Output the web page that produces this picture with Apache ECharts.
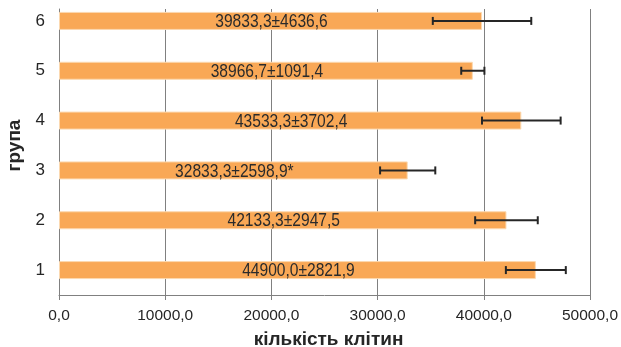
<!DOCTYPE html>
<html><head><meta charset="utf-8">
<script src="https://cdn.jsdelivr.net/npm/echarts@6/dist/echarts.min.js"></script>
<style>html,body{margin:0;padding:0;background:#fff}#c{width:621px;height:347px}</style>
</head><body><div id="c"></div>
<script>
const categories = ['1','2','3','4','5','6'];
const means = [44900.0, 42133.3, 32833.3, 43533.3, 38966.7, 39833.3];
const sds = [2821.9, 2947.5, 2598.9, 3702.4, 1091.4, 4636.6];
const marks = ['', '', '*', '', '', ''];
const xTicks = [0, 10000, 20000, 30000, 40000, 50000];

const FONT = "'Liberation Sans',Arial,sans-serif";
const fmt = v => v.toFixed(1).replace('.', ',');

const chart = echarts.init(document.getElementById('c'));
chart.setOption({
  animation: false,
  grid: [
    {left: 59, right: 31, top: -4, bottom: 52, outerBoundsMode: 'none', containLabel: false},
    {left: 59, right: 31, top: 9, bottom: 52, outerBoundsMode: 'none', containLabel: false}
  ],
  xAxis: [
    {gridIndex: 0, type: 'value', min: 0, max: 50000, interval: 10000, show: false},
    {gridIndex: 1, type: 'value', min: xTicks[0], max: xTicks[xTicks.length-1], interval: 10000,
      axisLine: {show: true, lineStyle: {color: '#808080', width: 1}},
      axisTick: {show: true, length: 5, lineStyle: {color: '#808080'}},
      splitLine: {show: true, lineStyle: {color: '#808080', width: 1}},
      axisLabel: {formatter: v => fmt(v), fontFamily: FONT, fontSize: 15.5, color: '#262626', margin: 13},
      name: 'кількість клітин', nameLocation: 'middle', nameGap: 35,
      nameTextStyle: {fontFamily: FONT, fontWeight: 'bold', fontSize: 19, color: '#262626', padding: [0,0,0,8]}
    }
  ],
  yAxis: [
    {gridIndex: 0, type: 'category', data: categories,
      axisLine: {show: false}, axisTick: {show: false}, splitLine: {show: false},
      axisLabel: {fontFamily: FONT, fontSize: 17, color: '#262626', margin: 14},
      name: 'група', nameLocation: 'middle', nameGap: 30, nameRotate: 90,
      nameTextStyle: {fontFamily: FONT, fontWeight: 'bold', fontSize: 19, color: '#262626', padding: [0,0,0,0]}
    },
    {gridIndex: 1, type: 'category', data: categories,
      axisLine: {show: true, lineStyle: {color: '#808080', width: 1}},
      axisTick: {show: false}, axisLabel: {show: false}, splitLine: {show: false}
    }
  ],
  series: [
    {
      type: 'bar', xAxisIndex: 0, yAxisIndex: 0,
      data: means, barWidth: 18,
      itemStyle: {color: '#F9A856', borderColor: '#FCD9B0', borderWidth: 1},
      z: 2
    },
    {
      type: 'custom', xAxisIndex: 0, yAxisIndex: 0,
      data: means.map((m, i) => [i, m, m - sds[i], m + sds[i]]),
      renderItem: (params, api) => {
        const i = params.dataIndex;
        const c = api.value(0);
        const p0 = api.coord([0, c]);
        const pm = api.coord([api.value(1), c]);
        const lo = api.coord([api.value(2), c]);
        const hi = api.coord([api.value(3), c]);
        const h = 4;
        const st = {stroke: '#262626', lineWidth: 2};
        return {type: 'group', children: [
          {type: 'text', x: (p0[0] + pm[0]) / 2 + 1, y: pm[1] + 1, scaleX: 0.82,
            style: {x: 0, y: 0, text: fmt(means[i]) + '±' + fmt(sds[i]) + marks[i],
              fontFamily: FONT, fontSize: 19, fill: '#2b2b2b', align: 'center', verticalAlign: 'middle'}},
          {type: 'line', shape: {x1: lo[0], y1: lo[1], x2: hi[0], y2: hi[1]}, style: st},
          {type: 'line', shape: {x1: lo[0], y1: lo[1]-h, x2: lo[0], y2: lo[1]+h}, style: st},
          {type: 'line', shape: {x1: hi[0], y1: hi[1]-h, x2: hi[0], y2: hi[1]+h}, style: st}
        ]};
      },
      z: 3
    }
  ]
});
</script></body></html>
